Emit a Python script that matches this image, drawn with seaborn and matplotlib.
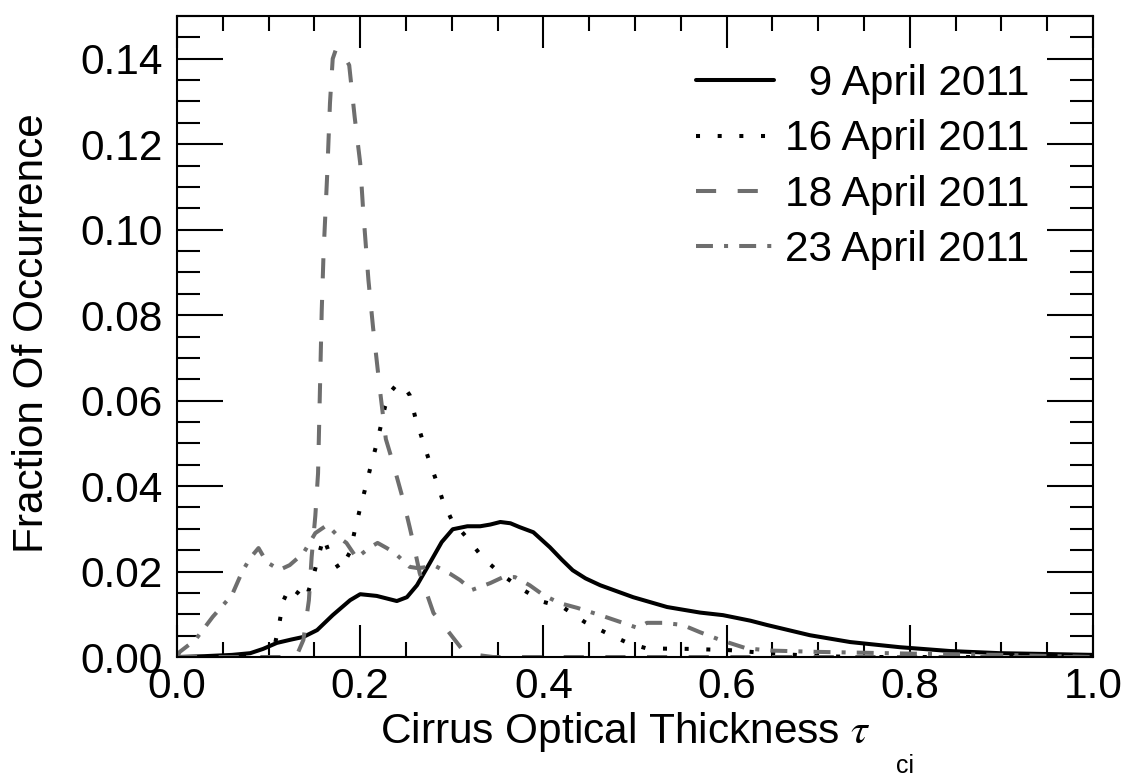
import matplotlib
matplotlib.use("Agg")
import matplotlib.pyplot as plt
from matplotlib.ticker import MultipleLocator, FormatStrFormatter
import pandas as pd
import seaborn as sns

# ---- data -------------------------------------------------------------
FIG_SP = "\u2007"  # figure space keeps the legend labels right-aligned
dates = [FIG_SP + "9 April 2011", "16 April 2011", "18 April 2011", "23 April 2011"]

tau_apr09 = [0.000, 0.030, 0.060, 0.080, 0.094, 0.109, 0.125, 0.138, 0.153, 0.170,
             0.189, 0.200, 0.218, 0.240, 0.251, 0.262, 0.276, 0.289, 0.301, 0.317,
             0.331, 0.342, 0.353, 0.364, 0.374, 0.389, 0.407, 0.420, 0.432, 0.446,
             0.462, 0.498, 0.535, 0.571, 0.596, 0.626, 0.644, 0.691, 0.735, 0.789,
             0.844, 0.898, 0.950, 1.000]
frac_apr09 = [0.0000, 0.0002, 0.0005, 0.0009, 0.0019, 0.0033, 0.0041, 0.0047, 0.0063, 0.0098,
              0.0133, 0.0147, 0.0143, 0.0131, 0.0140, 0.0168, 0.0220, 0.0269, 0.0299, 0.0306,
              0.0306, 0.0310, 0.0316, 0.0313, 0.0304, 0.0292, 0.0257, 0.0228, 0.0203, 0.0184,
              0.0168, 0.0140, 0.0117, 0.0104, 0.0098, 0.0085, 0.0075, 0.0051, 0.0035, 0.0023,
              0.0014, 0.0009, 0.0007, 0.0005]

tau_apr16 = [0.000, 0.050, 0.100, 0.106, 0.112, 0.116, 0.123, 0.132, 0.140, 0.148,
             0.154, 0.160, 0.167, 0.178, 0.189, 0.194, 0.199, 0.205, 0.211, 0.217,
             0.222, 0.227, 0.233, 0.240, 0.247, 0.254, 0.260, 0.267, 0.274, 0.282,
             0.290, 0.300, 0.317, 0.334, 0.355, 0.378, 0.400, 0.421, 0.445, 0.469,
             0.492, 0.513, 0.560, 0.604, 0.650, 0.700, 0.750, 1.000]
frac_apr16 = [0.0000, 0.0000, 0.0000, 0.0020, 0.0082, 0.0131, 0.0164, 0.0150, 0.0133, 0.0182,
              0.0232, 0.0280, 0.0239, 0.0204, 0.0246, 0.0295, 0.0340, 0.0390, 0.0442, 0.0491,
              0.0536, 0.0585, 0.0620, 0.0638, 0.0635, 0.0613, 0.0562, 0.0515, 0.0468, 0.0419,
              0.0367, 0.0320, 0.0278, 0.0232, 0.0192, 0.0157, 0.0129, 0.0117, 0.0082, 0.0056,
              0.0033, 0.0020, 0.0019, 0.0016, 0.0008, 0.0002, 0.0000, 0.0000]

tau_apr18 = [0.000, 0.050, 0.100, 0.130, 0.134, 0.138, 0.144, 0.147, 0.151, 0.154,
             0.158, 0.160, 0.164, 0.167, 0.170, 0.174, 0.180, 0.188, 0.194, 0.200,
             0.203, 0.209, 0.214, 0.222, 0.228, 0.235, 0.247, 0.254, 0.258, 0.265,
             0.270, 0.280, 0.295, 0.312, 0.327, 0.345, 0.500, 1.000]
frac_apr18 = [0.0000, 0.0000, 0.0000, 0.0000, 0.0020, 0.0040, 0.0133, 0.0234, 0.0330, 0.0430,
              0.0810, 0.0945, 0.1130, 0.1296, 0.1400, 0.1425, 0.1415, 0.1385, 0.1263, 0.1156,
              0.1053, 0.0882, 0.0772, 0.0617, 0.0510, 0.0460, 0.0367, 0.0304, 0.0267, 0.0196,
              0.0165, 0.0103, 0.0063, 0.0016, 0.0005, 0.0000, 0.0000, 0.0000]

tau_apr23 = [0.000, 0.003, 0.020, 0.039, 0.060, 0.071, 0.080, 0.089, 0.098, 0.112,
             0.123, 0.138, 0.151, 0.164, 0.178, 0.185, 0.196, 0.211, 0.219, 0.229,
             0.238, 0.254, 0.263, 0.282, 0.298, 0.309, 0.322, 0.342, 0.356, 0.369,
             0.385, 0.400, 0.418, 0.437, 0.462, 0.484, 0.503, 0.513, 0.531, 0.552,
             0.571, 0.593, 0.622, 0.650, 0.700, 0.750, 0.800, 0.900, 1.000]
frac_apr23 = [0.0000, 0.0012, 0.0040, 0.0094, 0.0145, 0.0199, 0.0232, 0.0255, 0.0222, 0.0204,
              0.0215, 0.0243, 0.0290, 0.0309, 0.0278, 0.0267, 0.0232, 0.0257, 0.0267, 0.0255,
              0.0243, 0.0211, 0.0208, 0.0213, 0.0195, 0.0180, 0.0157, 0.0173, 0.0187, 0.0187,
              0.0168, 0.0145, 0.0126, 0.0115, 0.0098, 0.0082, 0.0068, 0.0080, 0.0080, 0.0075,
              0.0058, 0.0040, 0.0020, 0.0015, 0.0012, 0.0010, 0.0008, 0.0005, 0.0000]

x_ticks = [0.0, 0.2, 0.4, 0.6, 0.8, 1.0]
y_ticks = [0.00, 0.02, 0.04, 0.06, 0.08, 0.10, 0.12, 0.14]

# ---- styling ----------------------------------------------------------
sns.set_style("ticks")
plt.rcParams["font.family"] = ["Liberation Sans", "DejaVu Sans"]
plt.rcParams["mathtext.fontset"] = "stix"
plt.rcParams["text.color"] = "black"
plt.rcParams["axes.labelcolor"] = "black"
plt.rcParams["lines.scale_dashes"] = False
plt.rcParams["lines.linewidth"] = 2.9
plt.rcParams["lines.dash_capstyle"] = "butt"
plt.rcParams["lines.solid_joinstyle"] = "round"
plt.rcParams["lines.dash_joinstyle"] = "round"

FS = 30.5
BLACK = "#000000"
GRAY = "#6e6e6e"
palette = {dates[0]: BLACK, dates[1]: BLACK, dates[2]: GRAY, dates[3]: GRAY}
dashes = {dates[0]: "",
          dates[1]: (2.9, 12.7),
          dates[2]: (14.5, 15.5),
          dates[3]: (12.2, 8.0, 2.9, 8.0)}

series = [(dates[0], tau_apr09, frac_apr09),
          (dates[1], tau_apr16, frac_apr16),
          (dates[2], tau_apr18, frac_apr18),
          (dates[3], tau_apr23, frac_apr23)]
df = pd.concat([pd.DataFrame({"tau": t, "frac": f, "date": d}) for d, t, f in series],
               ignore_index=True)

fig = plt.figure(figsize=(11.28, 7.78), dpi=100)
ax = fig.add_axes([0.1569, 0.1555, 0.8121, 0.8239])

sns.lineplot(data=df, x="tau", y="frac", hue="date", style="date",
             hue_order=dates, style_order=dates, palette=palette, dashes=dashes,
             sort=False, estimator=None, linewidth=2.9, ax=ax, legend=True)

ax.set_xlim(0.0, 1.0)
ax.set_ylim(0.0, 0.15)

# axes frame and inward ticks on all four sides
for sp in ax.spines.values():
    sp.set_visible(True)
    sp.set_linewidth(1.5)
    sp.set_color(BLACK)

ax.xaxis.set_minor_locator(MultipleLocator(0.05))
ax.yaxis.set_minor_locator(MultipleLocator(0.005))
ax.set_xticks(x_ticks)
ax.set_yticks(y_ticks)
ax.xaxis.set_major_formatter(FormatStrFormatter("%.1f"))
ax.yaxis.set_major_formatter(FormatStrFormatter("%.2f"))

ax.tick_params(axis="both", which="both", direction="in", color=BLACK, width=1.5,
               top=True, right=True, labelsize=FS, labelcolor=BLACK)
ax.tick_params(axis="x", which="major", length=23, pad=7)
ax.tick_params(axis="x", which="minor", length=11)
ax.tick_params(axis="y", which="major", length=33, pad=10)
ax.tick_params(axis="y", which="minor", length=16.5)

ax.set_ylabel("Fraction Of Occurrence", fontsize=FS, color=BLACK)
ax.yaxis.set_label_coords(-0.1463, 0.506)
ax.yaxis.label.set_verticalalignment("baseline")

ax.set_xlabel(r"Cirrus Optical Thickness $\tau$", fontsize=FS, color=BLACK)
ax.xaxis.set_label_coords(0.490, -0.1342)
ax.xaxis.label.set_verticalalignment("baseline")
fig.text(896 / 1128, 5 / 778, "ci", fontsize=18, color=BLACK, va="baseline", ha="left")

# legend without frame, upper right
old = ax.get_legend()
handles = old.legend_handles
labels = [t.get_text() for t in old.get_texts()]
old.remove()
ax.legend(handles, labels, loc="upper right", bbox_to_anchor=(0.931, 0.925),
          frameon=False, fontsize=FS, handlelength=1.85, handletextpad=0.27,
          labelspacing=0.36, borderpad=0, borderaxespad=0, labelcolor=BLACK)

fig.savefig("out.png", dpi=100)
